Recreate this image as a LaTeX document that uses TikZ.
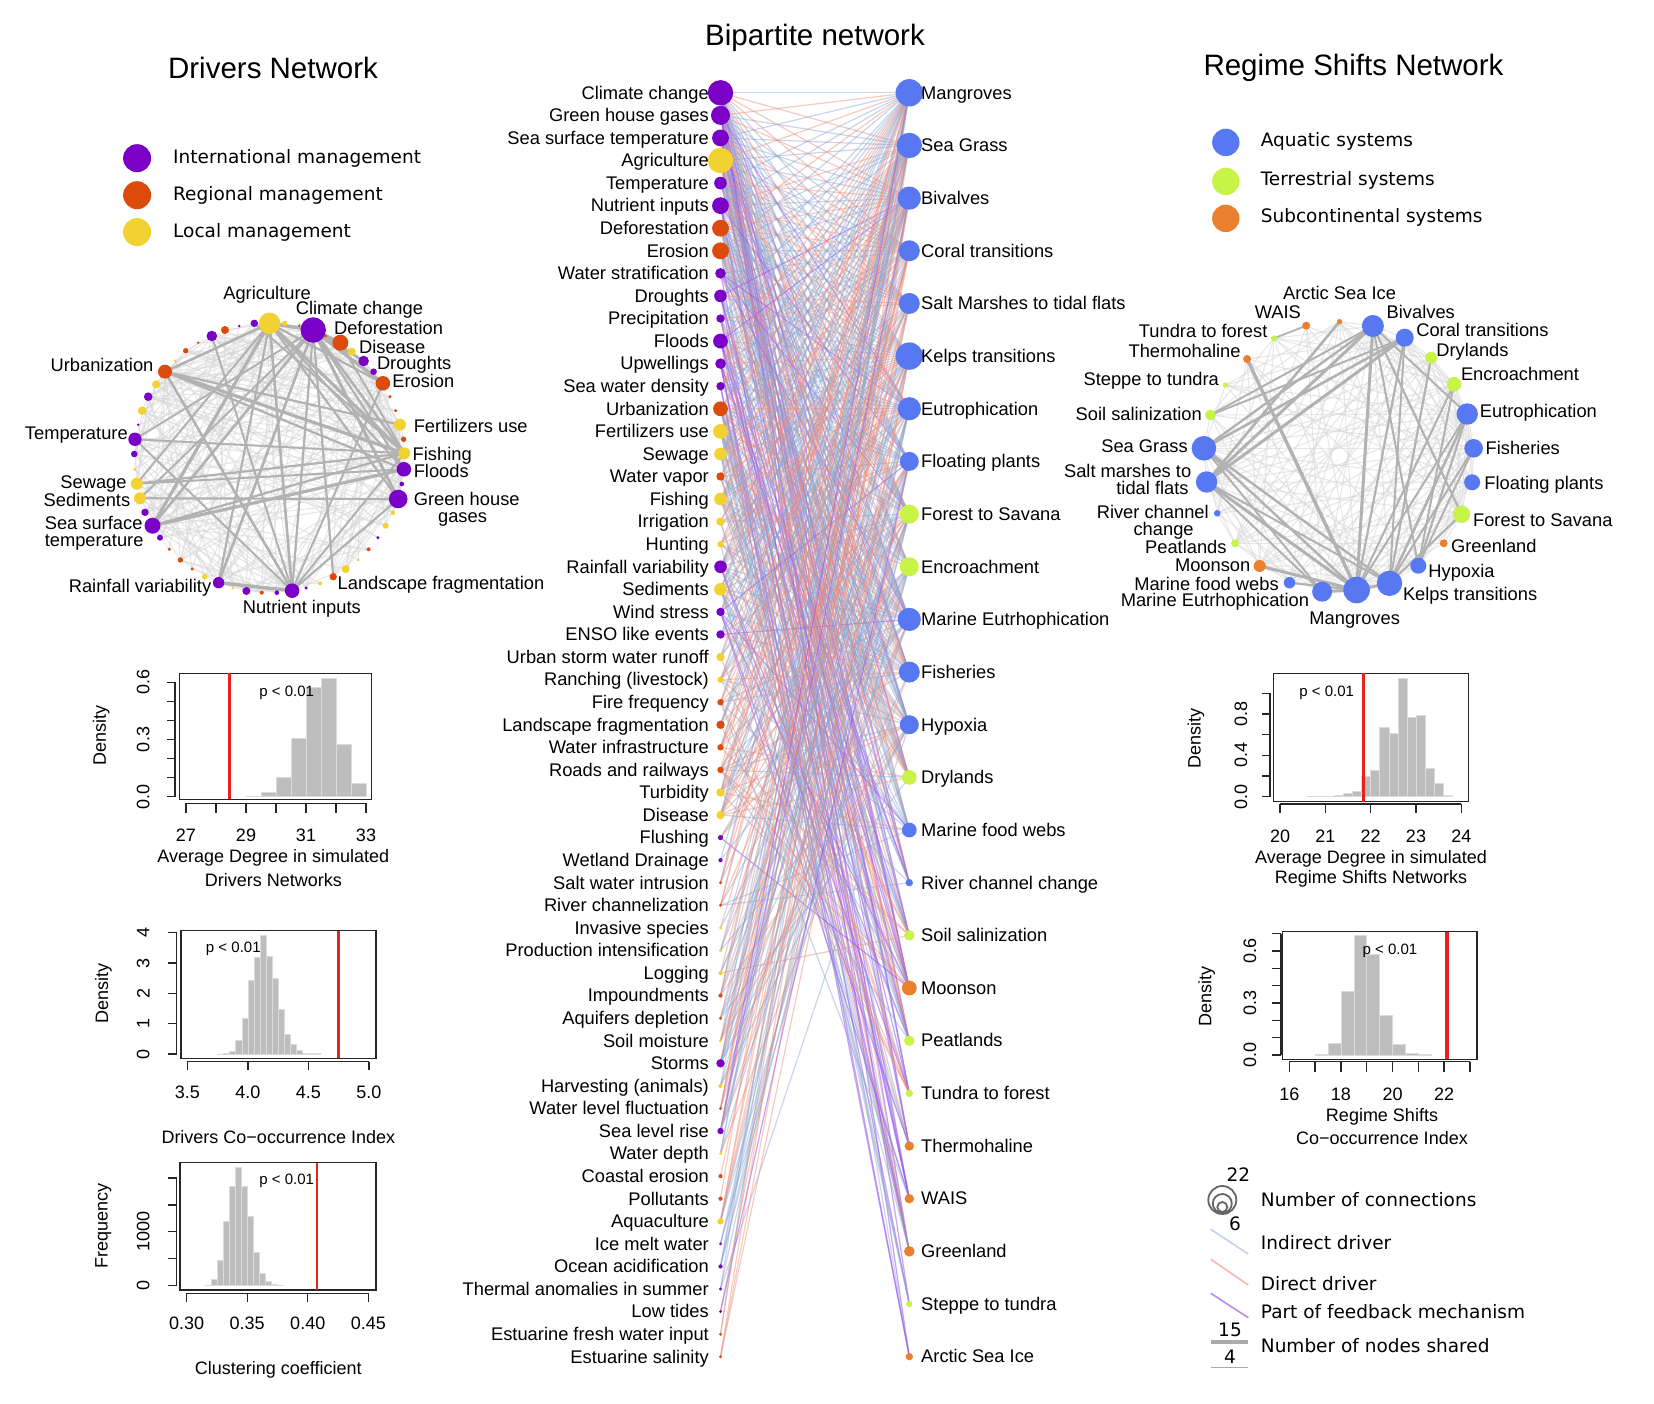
\documentclass[tikz,border=0pt]{standalone}
\usepackage{fontspec}
\setmainfont{Liberation Sans}
\newfontfamily\verd{DejaVu Sans}
\usetikzlibrary{calc}
\pgfdeclarelayer{back}
\pgfdeclarelayer{bg}
\pgfsetlayers{back,bg,main}
\definecolor{dcol1}{HTML}{7A00C8}
\definecolor{dcol2}{HTML}{DC4A0C}
\definecolor{dcol3}{HTML}{F2D230}
\definecolor{rcol1}{HTML}{5878F2}
\definecolor{rcol2}{HTML}{C8F44A}
\definecolor{rcol3}{HTML}{E8802E}
\definecolor{eInd}{HTML}{8AA4CF}
\definecolor{eDir}{HTML}{EE8A78}
\definecolor{eFb}{HTML}{9A55EE}
\definecolor{legInd}{HTML}{C5D3EA}
\definecolor{legDir}{HTML}{F6B9AD}
\definecolor{legFb}{HTML}{B58CF2}
\definecolor{rline}{HTML}{E8201E}
\tikzset{
  vdot/.style={circle, inner sep=0pt, draw=none},
  lab/.style={inner sep=0pt, font=\fontsize{18.3}{20}\selectfont},
  ttl/.style={inner sep=0pt, font=\fontsize{29.5}{32}\selectfont},
  leg/.style={inner sep=0pt, font=\verd\fontsize{18.5}{21}\selectfont},
  tcklab/.style={inner sep=0pt, font=\fontsize{18}{20}\selectfont},
  pval/.style={inner sep=0pt, font=\fontsize{15}{17}\selectfont},
  axline/.style={line width=1.4pt, black!85},
  hbar/.style={fill=black!26, draw=black!14, line width=0.5pt},
  redl/.style={rline, line width=2.4pt},
  dlight/.style={black!16, line width=1.1pt, opacity=0.55},
  dmid/.style={black!30, line width=#1},
  eind/.style={eInd, line width=1.2pt, opacity=0.45},
  edir/.style={eDir, line width=1.2pt, opacity=0.45},
  efb/.style={eFb, line width=1.2pt, opacity=0.55},
}
\def\LRad{{12.7,9.5,8.4,12.7,6.3,8.4,8.4,8.4,5.3,6.3,4.2,7.4,5.3,4.2,7.4,7.4,6.3,4.2,6.3,4.2,3.2,6.3,6.3,4.2,4.2,4.2,3.2,3.2,4.2,3.2,3.2,4.2,4.2,2.6,2.1,1.6,1.6,1.6,1.6,2.1,2.1,1.6,1.6,4.2,2.1,1.6,3.2,1.6,2.1,2.1,3.2,1.6,2.1,1.6,1.6,1.6,1.6}}
\def\LCol{{1,1,1,3,1,1,2,2,1,1,1,1,1,1,2,3,3,2,3,3,3,1,3,1,1,3,3,2,2,2,2,3,3,1,1,2,2,3,3,3,2,2,3,1,3,2,1,3,2,2,3,1,1,1,1,2,2}}
\def\RRad{{13.7,12.7,11.6,10.5,10.5,13.7,11.6,9.5,9.5,9.5,11.6,10.5,9.5,7.4,7.4,3.7,5.3,7.4,5.3,3.7,4.7,4.7,5.3,3.2,3.7}}
\def\DX{{269.6,284.6,313.2,299.3,325.7,340.4,351.8,363.6,373.6,382.9,390,395.7,400,403.6,404.3,403.9,401.8,398.2,392.9,385.7,377.9,368.6,358.2,345.7,333.2,320,306.1,292.1,276.8,261.8,246.4,232.9,218.6,204.6,192.1,180.4,169.3,160,152.5,145,140,136.8,134.6,134.3,135,138.2,142.1,148.2,156.1,165,175,185.7,198.2,211.8,225,239.3,254.3}}
\def\DY{{323.3,323.3,330,325.7,336,342.7,351.7,361,371.7,383.3,396.7,410.7,424.7,439.3,453.3,469.3,484,499,512.7,525.7,537.7,549.3,560,569,576.7,583.3,588,590.7,592.7,592.7,591,588.3,582.7,576.7,569,560,549.3,537.7,525.7,512.3,498.3,483.7,469.3,454,439.3,424.7,410.7,396.7,384.3,371.7,360.7,350.7,342.7,336,330,326,323.3}}
\def\DR{{10.7,2.7,12.7,1.4,1.7,8,4,5.3,3.3,7.3,1.7,1.7,6,2.7,6,7.3,2.3,9.3,2.3,3,1.7,2,1.4,4,3.7,2,1.7,7.3,2.3,2,4,1.4,5.7,2.7,1.7,2.7,1.7,3,8,3.7,6,6,1.4,3.3,6.7,1.4,4.3,4.3,4,7,1.4,2.7,1.4,5.3,4,1.4,3.7}}
\def\DC{{3,3,1,2,2,2,3,1,1,2,2,2,3,2,3,1,1,1,3,3,1,2,3,3,2,3,1,1,1,2,1,3,1,3,2,2,2,1,1,1,3,3,3,1,1,1,3,1,3,2,3,2,2,1,2,1,1}}
\def\GX{{1356.6,1203.9,1372.9,1404.7,1206.6,1389.5,1467.2,1472.1,1461.5,1453.9,1322.1,1473.6,1418.3,1431.2,1289.5,1217.2,1210.4,1259.6,1235,1274,1247.1,1306.2,1443.7,1225.5,1339.5}}
\def\GY{{590,448.3,326,337.7,482,583.3,414,482.3,514.3,384.3,591.7,448.3,565.7,357.7,582.7,513.3,415,566,543.3,338.3,359,325.7,543.3,385,321.7}}
\def\GR{{13.3,12.3,11,9,10.7,12.7,10.7,8,8.7,7.3,10,9.3,8,6,5.7,3.3,5.3,6,4,3,4,4,4,2.7,2.7}}
\def\GC{{1,1,1,1,1,1,1,1,2,2,1,1,1,2,1,1,2,3,2,2,3,3,3,2,3}}
\begin{document}
\begin{tikzpicture}[x=1pt,y=-1pt]
\begin{pgfonlayer}{back}
\fill[white] (0,0) rectangle (1654,1404);
\end{pgfonlayer}
\useasboundingbox (0,0) rectangle (1654,1404);
\pgfmathsetseed{20}
% ---------------- titles
\node[ttl] (t1) at (273,67.5) {Drivers Network};
\node[ttl] (t2) at (815,38) {Bipartite network};
\node[ttl] (t3) at (1353.5,68) {Regime Shifts Network};
% ---------------- legends
\foreach \cl/\tx/\yy [count=\k] in {dcol1/International management/158.2, dcol2/Regional management/195.2, dcol3/Local management/232.1} {
  \node[vdot, fill=\cl, minimum size=28pt] (dl\k) at (137.1,\yy) {};
  \node[leg, anchor=west] (dlt\k) at (173,\yy) {\tx};
}
\foreach \cl/\tx/\yy [count=\k] in {rcol1/Aquatic systems/142.4, rcol2/Terrestrial systems/181.4, rcol3/Subcontinental systems/218.4} {
  \node[vdot, fill=\cl, minimum size=27.4pt] (rl\k) at (1225.8,\yy) {};
  \node[leg, anchor=west] (rlt\k) at (1260.6,\yy-1) {\tx};
}
% ---------------- drivers network
\foreach \k in {1,...,57}{
  \pgfmathsetmacro{\xx}{\DX[\k-1]}
  \pgfmathsetmacro{\yy}{\DY[\k-1]}
  \pgfmathsetmacro{\rr}{2*\DR[\k-1]}
  \pgfmathtruncatemacro{\cc}{\DC[\k-1]}
  \node[vdot, fill=dcol\cc, minimum size=\rr pt] (d\k) at (\xx,\yy) {};
}
\node[lab, anchor=base] (ld1) at (267.1,299.3) {Agriculture};
\node[lab, anchor=base west] (ld2) at (295.7,314.3) {Climate change};
\node[lab, anchor=base west] (ld3) at (333.9,334.3) {Deforestation};
\node[lab, anchor=base west] (ld4) at (358.9,353.3) {Disease};
\node[lab, anchor=base west] (ld5) at (376.8,370) {Droughts};
\node[lab, anchor=base west] (ld6) at (392.1,388) {Erosion};
\node[lab, anchor=base west] (ld7) at (413.6,432.7) {Fertilizers use};
\node[lab, anchor=base west] (ld8) at (412.5,460) {Fishing};
\node[lab, anchor=base west] (ld9) at (413.6,477.7) {Floods};
\node[lab, anchor=base west] (ld10) at (413.6,505) {Green house};
\node[lab, anchor=base] (ld11) at (462.5,522.5) {gases};
\node[lab, anchor=base west] (ld12) at (337.5,589.3) {Landscape fragmentation};
\node[lab, anchor=base] (ld13) at (301.8,613.7) {Nutrient inputs};
\node[lab, anchor=base east] (ld14) at (211.4,592) {Rainfall variability};
\node[lab, anchor=base west] (ld15) at (44.6,529.5) {Sea surface};
\node[lab, anchor=base west] (ld16) at (44.6,546) {temperature};
\node[lab, anchor=base east] (ld17) at (130.4,506) {Sediments};
\node[lab, anchor=base east] (ld18) at (126.8,488.7) {Sewage};
\node[lab, anchor=base east] (ld19) at (127.9,439.3) {Temperature};
\node[lab, anchor=base east] (ld20) at (153.6,372) {Urbanization};
% ---------------- regime network
\foreach \k in {1,...,25}{
  \pgfmathsetmacro{\xx}{\GX[\k-1]}
  \pgfmathsetmacro{\yy}{\GY[\k-1]}
  \pgfmathsetmacro{\rr}{2*\GR[\k-1]}
  \pgfmathtruncatemacro{\cc}{\GC[\k-1]}
  \node[vdot, fill=rcol\cc, minimum size=\rr pt] (g\k) at (\xx,\yy) {};
}
\node[lab, anchor=base] (lg1) at (1339.5,299.3) {Arctic Sea Ice};
\node[lab, anchor=base] (lg2) at (1277.8,318.7) {WAIS};
\node[lab, anchor=base west] (lg3) at (1386.5,318.7) {Bivalves};
\node[lab, anchor=base west] (lg4) at (1416.1,336.7) {Coral transitions};
\node[lab, anchor=base west] (lg5) at (1436.1,356) {Drylands};
\node[lab, anchor=base west] (lg6) at (1460.8,380.3) {Encroachment};
\node[lab, anchor=base west] (lg7) at (1479.7,417.7) {Eutrophication};
\node[lab, anchor=base west] (lg8) at (1485.4,454.3) {Fisheries};
\node[lab, anchor=base west] (lg9) at (1484.2,489.3) {Floating plants};
\node[lab, anchor=base west] (lg10) at (1472.9,526) {Forest to Savana};
\node[lab, anchor=base west] (lg11) at (1450.9,552) {Greenland};
\node[lab, anchor=base west] (lg12) at (1428.2,577.7) {Hypoxia};
\node[lab, anchor=base west] (lg13) at (1402.8,600.3) {Kelps transitions};
\node[lab, anchor=base] (lg14) at (1354.7,624.3) {Mangroves};
\node[lab, anchor=base east] (lg15) at (1309.2,606) {Marine Eutrhophication};
\node[lab, anchor=base east] (lg16) at (1278.9,590) {Marine food webs};
\node[lab, anchor=base east] (lg17) at (1250.5,571.7) {Moonson};
\node[lab, anchor=base east] (lg18) at (1226.7,553.3) {Peatlands};
\node[lab, anchor=base east] (lg19) at (1208.9,518.3) {River channel};
\node[lab, anchor=base] (lg20) at (1163.6,535.3) {change};
\node[lab, anchor=base east] (lg21) at (1191.4,477.7) {Salt marshes to};
\node[lab, anchor=base east] (lg22) at (1188.8,494.3) {tidal flats};
\node[lab, anchor=base east] (lg23) at (1188,452) {Sea Grass};
\node[lab, anchor=base east] (lg24) at (1202,420) {Soil salinization};
\node[lab, anchor=base east] (lg25) at (1219.1,385.3) {Steppe to tundra};
\node[lab, anchor=base east] (lg26) at (1240.7,357.7) {Thermohaline};
\node[lab, anchor=base east] (lg27) at (1267.6,338) {Tundra to forest};
% ---------------- bipartite nodes
\foreach \tx/\cl/\rd [count=\i] in {Climate change/1/12.7, Green house gases/1/9.5, Sea surface temperature/1/8.4, Agriculture/3/12.7, Temperature/1/6.3, Nutrient inputs/1/8.4, Deforestation/2/8.4, Erosion/2/8.4, Water stratification/1/5.3, Droughts/1/6.3, Precipitation/1/4.2, Floods/1/7.4, Upwellings/1/5.3, Sea water density/1/4.2, Urbanization/2/7.4, Fertilizers use/3/7.4, Sewage/3/6.3, Water vapor/2/4.2, Fishing/3/6.3, Irrigation/3/4.2, Hunting/3/3.2, Rainfall variability/1/6.3, Sediments/3/6.3, Wind stress/1/4.2, ENSO like events/1/4.2, Urban storm water runoff/3/4.2, Ranching (livestock)/3/3.2, Fire frequency/2/3.2, Landscape fragmentation/2/4.2, Water infrastructure/2/3.2, Roads and railways/2/3.2, Turbidity/3/4.2, Disease/3/4.2, Flushing/1/2.6, Wetland Drainage/1/2.1, Salt water intrusion/2/1.6, River channelization/2/1.6, Invasive species/3/1.6, Production intensification/3/1.6, Logging/3/2.1, Impoundments/2/2.1, Aquifers depletion/2/1.6, Soil moisture/3/1.6, Storms/1/4.2, Harvesting (animals)/3/2.1, Water level fluctuation/2/1.6, Sea level rise/1/3.2, Water depth/3/1.6, Coastal erosion/2/2.1, Pollutants/2/2.1, Aquaculture/3/3.2, Ice melt water/1/1.6, Ocean acidification/1/2.1, Thermal anomalies in summer/1/1.6, Low tides/1/1.6, Estuarine fresh water input/2/1.6, Estuarine salinity/2/1.6} {
  \pgfmathsetmacro{\yy}{92.8+22.57*(\i-1)}
  \pgfmathsetmacro{\dd}{2*\rd}
  \node[vdot, fill=dcol\cl, minimum size=\dd pt] (L\i) at (720.5,\yy) {};
  \node[lab, anchor=base east] (LT\i) at (709,\yy+6.3) {\tx};
}
\foreach \tx/\cl/\rd [count=\j] in {Mangroves/1/13.7, Sea Grass/1/12.7, Bivalves/1/11.6, Coral transitions/1/10.5, Salt Marshes to tidal flats/1/10.5, Kelps transitions/1/13.7, Eutrophication/1/11.6, Floating plants/1/9.5, Forest to Savana/2/9.5, Encroachment/2/9.5, Marine Eutrhophication/1/11.6, Fisheries/1/10.5, Hypoxia/1/9.5, Drylands/2/7.4, Marine food webs/1/7.4, River channel change/1/3.7, Soil salinization/2/5.3, Moonson/3/7.4, Peatlands/2/5.3, Tundra to forest/2/3.7, Thermohaline/3/4.7, WAIS/3/4.7, Greenland/3/5.3, Steppe to tundra/2/3.2, Arctic Sea Ice/3/3.7} {
  \pgfmathsetmacro{\yy}{92.8+52.66*(\j-1)}
  \pgfmathsetmacro{\dd}{2*\rd}
  \node[vdot, fill=rcol\cl, minimum size=\dd pt] (R\j) at (909.3,\yy) {};
  \node[lab, anchor=base west] (RT\j) at (921,\yy+6.3) {\tx};
}
% ---------------- edges (background layer)
\begin{pgfonlayer}{bg}
% drivers network faint edges
\foreach \a in {1,...,56}{
  \pgfmathtruncatemacro{\an}{\a+1}
  \foreach \b in {\an,...,57}{
    \pgfmathsetmacro{\pp}{0.009*\DR[\a-1]*\DR[\b-1]}
    \pgfmathsetmacro{\uu}{rnd}
    \ifdim\uu pt<\pp pt \draw[dlight] (d\a.center) -- (d\b.center); \fi
  }
}
\foreach \a/\b/\w in {1/15/3.2pt, 3/15/2.6pt, 50/15/3.2pt, 50/16/2.2pt, 42/15/2.2pt, 41/18/2.2pt, 39/16/3.2pt, 1/39/3.2pt, 3/39/2.6pt, 3/33/2.6pt, 1/33/2.2pt, 1/28/2.6pt, 3/28/2.2pt, 50/28/2.6pt, 33/28/3.4pt, 1/3/3.4pt, 3/10/3.4pt, 1/10/2.2pt, 3/6/3.4pt, 1/50/2.6pt, 3/18/3pt, 1/18/2.2pt, 28/18/2.2pt, 28/15/2pt, 25/3/2.2pt, 45/15/2pt, 45/28/2pt, 39/15/2.2pt, 13/50/2.2pt, 41/3/2pt, 42/1/2pt, 16/3/2.2pt, 57/15/2pt, 54/28/2pt, 45/3/2pt, 10/28/2pt, 6/15/2pt, 8/3/2.4pt, 1/16/2pt, 42/16/2pt}
  \draw[dmid=\w] (d\a.center) -- (d\b.center);
% regime network faint edges
\foreach \a in {1,...,24}{
  \pgfmathtruncatemacro{\an}{\a+1}
  \foreach \b in {\an,...,25}{
    \pgfmathsetmacro{\pp}{0.011*\GR[\a-1]*\GR[\b-1]}
    \pgfmathsetmacro{\uu}{rnd}
    \ifdim\uu pt<\pp pt \draw[dlight] (g\a.center) -- (g\b.center); \fi
  }
}
\foreach \a/\b/\w in {21/1/3.4pt, 3/1/3pt, 3/5/3pt, 4/5/3pt, 4/2/2.6pt, 3/2/2.4pt, 3/9/2.2pt, 3/13/2pt, 14/6/2.2pt, 10/1/2pt, 7/6/2.6pt, 12/6/2pt, 5/1/3pt, 2/1/2.4pt, 2/6/2.4pt, 5/6/2pt, 18/1/3pt, 11/1/3pt, 1/6/3pt, 15/1/2.2pt, 25/5/2.6pt, 17/3/2pt, 17/4/2pt, 7/13/2.2pt, 9/6/2.2pt, 12/13/2pt, 4/1/2.2pt, 4/6/2pt, 7/1/2pt, 5/11/2pt, 2/11/2pt, 20/22/1.8pt, 3/7/2pt, 10/13/2pt}
  \draw[dmid=\w] (g\a.center) -- (g\b.center);
% bipartite edges
\foreach \i in {1,...,57}{
  \foreach \j in {1,...,25}{
    \pgfmathsetmacro{\lr}{\LRad[\i-1]}
    \pgfmathsetmacro{\rr}{\RRad[\j-1]}
    \pgfmathsetmacro{\sup}{ifthenelse((\i-1)/56+(\j-1)/24>1.3,0.08,1)}
    \pgfmathsetmacro{\pp}{(\lr+1.5)*\rr/112*\sup}
    \pgfmathsetmacro{\uu}{rnd}
    \ifdim\uu pt<\pp pt
      \pgfmathsetmacro{\vv}{rnd}
      \pgfmathtruncatemacro{\lc}{\LCol[\i-1]}
      \pgfmathtruncatemacro{\kind}{ifthenelse(\lc==1,ifthenelse(\j>15,ifthenelse(\vv<0.85,3,2),ifthenelse(\vv<0.12,3,ifthenelse(\vv<0.72,1,2))),ifthenelse(\vv<ifthenelse(\i<26,0.62,0.42),1,2))}
      \ifcase\kind\or
        \draw[eind] (L\i.center) -- (R\j.center);
      \or
        \draw[edir] (L\i.center) -- (R\j.center);
      \or
        \draw[efb] (L\i.center) -- (R\j.center);
      \fi
    \fi
  }
}
\end{pgfonlayer}
% ---------------- histogram 1
\foreach \v/\hh in {29.0/0.004,29.5/0.021,30.0/0.1,30.5/0.306,31.0/0.574,31.5/0.621,32.0/0.276,32.5/0.07}
  \draw[hbar] ({186+(\v-27)*30},796.7) rectangle ({186+(\v+0.5-27)*30},{796.7-\hh*190.7});
\draw[axline] (179.3,673.3) rectangle (371.7,799.3);
\draw[redl] (229.3,673.3) -- (229.3,799.3);
\draw[axline] (175,796.7) -- (175,682.3);
\foreach \k in {0,...,6} \draw[axline] (175,{796.7-\k*19.07}) -- (166.7,{796.7-\k*19.07});
\foreach \lb/\k in {0.0/0,0.3/3,0.6/6} \node[tcklab,rotate=90] (h1y\k) at (143.3,{796.7-\k*19.07}) {\lb};
\draw[axline] (186,803.3) -- (366,803.3);
\foreach \k in {0,...,6} \draw[axline] ({186+\k*30},803.3) -- ({186+\k*30},813.3);
\foreach \lb/\k in {27/0,29/2,31/4,33/6} \node[tcklab] (h1x\k) at ({186+\k*30},835) {\lb};
\node[tcklab] (h1t1) at (273.3,858.3) {Average Degree in simulated};
\node[tcklab] (h1t2) at (273.3,880) {Drivers Networks};
\node[tcklab,rotate=90] (h1d) at (101.3,735.3) {Density};
\node[pval] (h1p) at (286.7,692.7) {p < 0.01};
% ---------------- histogram 2
\foreach \v/\hh in {3.75/0.005,3.80/0.02,3.85/0.1,3.90/0.44,3.95/1.18,4.00/2.42,4.05/3.18,4.10/3.92,4.15/3.23,4.20/2.49,4.25/1.48,4.30/0.66,4.35/0.32,4.40/0.11,4.45/0.04,4.50/0.015,4.55/0.01}
  \draw[hbar] ({187.3+(\v-3.5)*121.1},1054) rectangle ({187.3+(\v+0.05-3.5)*121.1},{1054-\hh*30.33});
\draw[axline] (181,930.7) rectangle (376,1058.3);
\draw[redl] (338.3,930.7) -- (338.3,1058.3);
\draw[axline] (176.7,1054) -- (176.7,932.7);
\foreach \k in {0,...,4} \draw[axline] (176.7,{1054-\k*30.33}) -- (168.3,{1054-\k*30.33});
\foreach \k in {0,...,4} \node[tcklab,rotate=90] (h2y\k) at (143.3,{1054-\k*30.33}) {\k};
\draw[axline] (187.3,1061.7) -- (369,1061.7);
\foreach \k in {0,...,3} \draw[axline] ({187.3+\k*60.55},1061.7) -- ({187.3+\k*60.55},1070);
\foreach \lb/\k in {3.5/0,4.0/1,4.5/2,5.0/3} \node[tcklab] (h2x\k) at ({187.3+\k*60.55},1092.7) {\lb};
\node[tcklab] (h2t) at (278.3,1136.7) {Drivers Co−occurrence Index};
\node[tcklab,rotate=90] (h2d) at (103.4,993.7) {Density};
\node[pval] (h2p) at (233.3,949.3) {p < 0.01};
% ---------------- histogram 3
\foreach \v/\hh in {0.315/10,0.320/110,0.325/470,0.330/1200,0.335/1840,0.340/2200,0.345/1840,0.350/1290,0.355/610,0.360/225,0.365/70,0.370/20,0.375/5}
  \draw[hbar] ({186.7+(\v-0.3)*1212.7},1285.3) rectangle ({186.7+(\v+0.005-0.3)*1212.7},{1285.3-\hh*0.05367});
\draw[axline] (180,1162.7) rectangle (376,1290);
\draw[redl] (316.7,1162.7) -- (316.7,1290);
\draw[axline] (176.7,1285.3) -- (176.7,1178);
\foreach \k in {0,...,4} \draw[axline] (176.7,{1285.3-\k*26.83}) -- (168.3,{1285.3-\k*26.83});
\node[tcklab,rotate=90] (h3y0) at (143.3,1285.3) {0};
\node[tcklab,rotate=90] (h3y1) at (143.3,1231.6) {1000};
\draw[axline] (186.7,1293.3) -- (368.3,1293.3);
\foreach \k in {0,...,3} \draw[axline] ({186.7+\k*60.53},1293.3) -- ({186.7+\k*60.53},1301.7);
\foreach \lb/\k in {0.30/0,0.35/1,0.40/2,0.45/3} \node[tcklab] (h3x\k) at ({186.7+\k*60.53},1323.3) {\lb};
\node[tcklab] (h3t) at (278.3,1370) {Clustering coefficient};
\node[tcklab,rotate=90] (h3d) at (103.4,1225.8) {Frequency};
\node[pval] (h3p) at (286.7,1180.7) {p < 0.01};
% ---------------- histogram 4
\foreach \v/\hh in {20.6/0.003,20.8/0.003,21.0/0.005,21.2/0.01,21.4/0.03,21.6/0.05,21.8/0.2,22.0/0.26,22.2/0.67,22.4/0.61,22.6/1.15,22.8/0.77,23.0/0.79,23.2/0.28,23.4/0.13,23.6/0.01}
  \draw[hbar] ({1280+(\v-20)*45.33},796.7) rectangle ({1280+(\v+0.2-20)*45.33},{796.7-\hh*103.3});
\draw[axline] (1273.3,673.3) rectangle (1468.4,801.7);
\draw[redl] (1363.3,673.3) -- (1363.3,801.7);
\draw[axline] (1270,796.7) -- (1270,693.3);
\foreach \k in {0,...,5} \draw[axline] (1270,{796.7-\k*20.67}) -- (1261.7,{796.7-\k*20.67});
\foreach \lb/\k in {0.0/0,0.4/2,0.8/4} \node[tcklab,rotate=90] (h4y\k) at (1241,{796.7-\k*20.67}) {\lb};
\draw[axline] (1280,804) -- (1461.3,804);
\foreach \k in {0,...,4} \draw[axline] ({1280+\k*45.33},804) -- ({1280+\k*45.33},813.3);
\foreach \lb/\k in {20/0,21/1,22/2,23/3,24/4} \node[tcklab] (h4x\k) at ({1280+\k*45.33},836.7) {\lb};
\node[tcklab] (h4t1) at (1371,859) {Average Degree in simulated};
\node[tcklab] (h4t2) at (1371,879) {Regime Shifts Networks};
\node[tcklab,rotate=90] (h4d) at (1196,738.3) {Density};
\node[pval] (h4p) at (1326.7,693.3) {p < 0.01};
% ---------------- histogram 5
\foreach \v/\hh in {17.0/0.005,17.5/0.07,18.0/0.37,18.5/0.69,19.0/0.58,19.5/0.23,20.0/0.06,20.5/0.01,21.0/0.004}
  \draw[hbar] ({1289.3+(\v-16)*25.8},1055) rectangle ({1289.3+(\v+0.5-16)*25.8},{1055-\hh*173.3});
\draw[axline] (1282.7,931.7) rectangle (1476.9,1059.3);
\draw[rline, line width=4pt] (1446.7,931.7) -- (1446.7,1059.3);
\draw[axline] (1281,1055) -- (1281,933.7);
\foreach \k in {0,...,7} \draw[axline] (1281,{1055-\k*17.33}) -- (1271.7,{1055-\k*17.33});
\foreach \lb/\k in {0.0/0,0.3/3,0.6/6} \node[tcklab,rotate=90] (h5y\k) at (1250,{1055-\k*17.33}) {\lb};
\draw[axline] (1289.3,1061.7) -- (1470,1061.7);
\foreach \k in {0,...,7} \draw[axline] ({1289.3+\k*25.8},1061.7) -- ({1289.3+\k*25.8},1071.7);
\foreach \lb/\k in {16/0,18/2,20/4,22/6} \node[tcklab] (h5x\k) at ({1289.3+\k*25.8},1094) {\lb};
\node[tcklab] (h5t1) at (1382,1116.7) {Regime Shifts};
\node[tcklab] (h5t2) at (1382,1138.3) {Co−occurrence Index};
\node[tcklab,rotate=90] (h5d) at (1206.7,996.7) {Density};
\node[pval] (h5p) at (1390,950.7) {p < 0.01};
% ---------------- bottom-right legend
\node[leg] (n22) at (1238.3,1175) {22};
\draw[black!60, line width=1.8pt] (1222.3,1200) circle (14);
\draw[black!60, line width=1.8pt] (1222.3,1203.5) circle (9.5);
\draw[black!60, line width=1.8pt] (1222.3,1207) circle (5);
\node[leg] (n6) at (1235,1223.3) {6};
\node[leg, anchor=west] (lc1) at (1260.7,1199.3) {Number of connections};
\coordinate (ia) at (1210.7,1229.3); \coordinate (ib) at (1248.3,1254);
\draw[legInd, line width=1.6pt] (ia) -- (ib);
\node[leg, anchor=west] (lc2) at (1260.7,1242.7) {Indirect driver};
\coordinate (da) at (1210.7,1259.3); \coordinate (db) at (1248.3,1285);
\draw[legDir, line width=1.6pt] (da) -- (db);
\node[leg, anchor=west] (lc3) at (1260.7,1283.3) {Direct driver};
\coordinate (fa) at (1210.7,1293.3); \coordinate (fb) at (1248.3,1317.7);
\draw[legFb, line width=1.6pt] (fa) -- (fb);
\node[leg, anchor=west] (lc4) at (1260.7,1311.7) {Part of feedback mechanism};
\node[leg] (n15) at (1230,1330) {15};
\coordinate (sa) at (1210.7,1342); \coordinate (sb) at (1248.3,1342);
\draw[black!33, line width=3.5pt] (sa) -- (sb);
\node[leg, anchor=west] (lc5) at (1260.7,1346) {Number of nodes shared};
\node[leg] (n4) at (1230,1356.7) {4};
\coordinate (ta) at (1210.7,1367.3); \coordinate (tb) at (1248.3,1367.3);
\draw[black!33, line width=1.3pt] (ta) -- (tb);
\end{tikzpicture}
\end{document}
